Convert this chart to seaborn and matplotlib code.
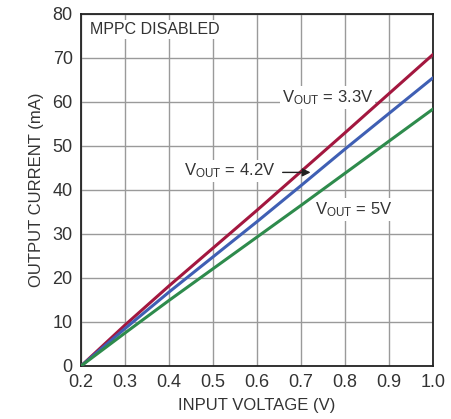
import matplotlib
matplotlib.use("Agg")
import matplotlib.pyplot as plt
import seaborn as sns
import pandas as pd
from matplotlib import font_manager

vin = [0.2, 0.3, 0.4, 0.5, 0.6, 0.7, 0.8, 0.9, 1.0]
i_33 = [0, 9.3, 18.2, 26.8, 35.4, 44.2, 53.0, 61.9, 70.8]
i_42 = [0, 8.5, 16.8, 24.8, 32.8, 41.0, 49.3, 57.4, 65.5]
i_50 = [0, 7.5, 14.9, 22.1, 29.3, 36.5, 43.8, 51.1, 58.4]
series = ["3.3V", "4.2V", "5V"]
xticks = [0.2, 0.3, 0.4, 0.5, 0.6, 0.7, 0.8, 0.9, 1.0]
yticks = [0, 10, 20, 30, 40, 50, 60, 70, 80]

sns.set_theme(style="white")
names = {f.name for f in font_manager.fontManager.ttflist}
fam = "Liberation Sans Narrow" if "Liberation Sans Narrow" in names else "Liberation Sans"
plt.rcParams["font.family"] = [fam, "DejaVu Sans"]
plt.rcParams["mathtext.fontset"] = "custom"
plt.rcParams["mathtext.rm"] = fam
plt.rcParams["mathtext.it"] = fam
plt.rcParams["mathtext.default"] = "rm"

df = pd.DataFrame({
    "vin": vin * 3,
    "iout": i_33 + i_42 + i_50,
    "vout": [series[0]] * len(vin) + [series[1]] * len(vin) + [series[2]] * len(vin),
})
palette = {"3.3V": "#A3173F", "4.2V": "#3F5FB4", "5V": "#2E8B4C"}

fig = plt.figure(figsize=(4.51, 4.19), dpi=100)
ax = fig.add_axes([0.1796, 0.1265, 0.7805, 0.8401])
sns.lineplot(data=df, x="vin", y="iout", hue="vout", palette=palette,
             linewidth=2.2, legend=False, ax=ax, zorder=5)

ax.set_xlim(0.2, 1.0)
ax.set_ylim(0, 80)
ax.set_xticks(xticks)
ax.set_xticklabels([f"{v:.1f}" for v in xticks])
ax.set_yticks(yticks)
ax.set_yticklabels([str(v) for v in yticks])
ax.grid(True, color="#9a9a9a", linewidth=1.0, zorder=0)
ax.tick_params(axis="both", length=0, labelsize=13, labelcolor="#333333", pad=6)
for s in ax.spines.values():
    s.set_color("#222222")
    s.set_linewidth(1.3)
ax.set_xlabel("INPUT VOLTAGE (V)", fontsize=12, color="#333333", labelpad=5)
ax.set_ylabel("OUTPUT CURRENT (mA)", fontsize=12, color="#333333", labelpad=6)

box = dict(facecolor="white", edgecolor="none", pad=1.5)
ax.text(0.2205, 76.4, "MPPC DISABLED", fontsize=11.5, color="#333333",
        va="center", ha="left", bbox=box, zorder=4)
ax.text(0.656, 61.1, "V$_{\\mathrm{OUT}}$ = 3.3V", fontsize=12, color="#333333",
        va="center", ha="left", bbox=box, zorder=4)
ax.text(0.434, 44.3, "V$_{\\mathrm{OUT}}$ = 4.2V", fontsize=12, color="#333333",
        va="center", ha="left", bbox=box, zorder=4)
ax.text(0.732, 35.5, "V$_{\\mathrm{OUT}}$ = 5V", fontsize=12, color="#333333",
        va="center", ha="left", bbox=box, zorder=4)
ax.annotate("", xy=(0.728, 44.0), xytext=(0.652, 44.0),
            arrowprops=dict(arrowstyle="-|>", color="#222222", lw=1.0,
                            mutation_scale=12), zorder=6)

fig.savefig("out.png", dpi=100)
